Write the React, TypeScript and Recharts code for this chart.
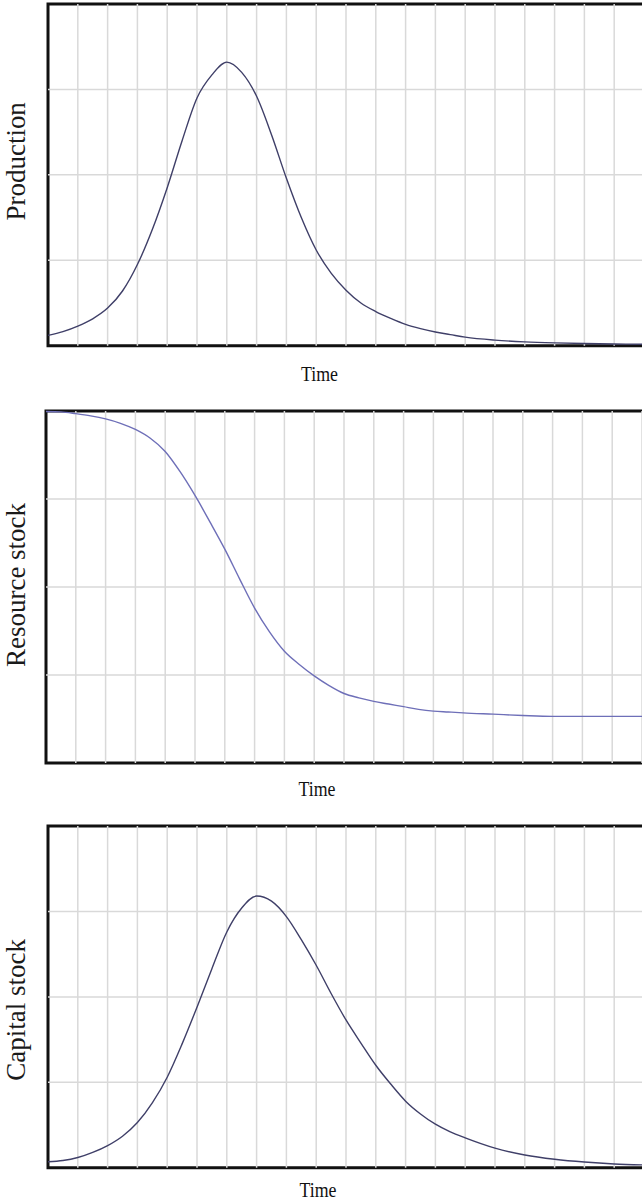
import React from "react";
import {
  LineChart,
  Line,
  XAxis,
  YAxis,
  ReferenceArea,
  ReferenceLine,
} from "recharts";

// simulation output (time in grid steps)
const timePoints = [
  0, 0.5, 1, 1.5, 2, 2.5, 3, 3.5, 4, 4.5, 5, 5.5, 6, 6.5, 7, 7.5, 8, 8.5, 9,
  9.5, 10, 10.5, 11, 11.5, 12, 12.5, 13, 13.5, 14, 15, 16, 17, 18, 19, 20, 21,
];

const production = [
  0.12, 0.165, 0.23, 0.315, 0.44, 0.64, 0.95, 1.36, 1.85, 2.4, 2.9, 3.17, 3.32,
  3.2, 2.92, 2.47, 1.96, 1.5, 1.12, 0.85, 0.65, 0.5, 0.4, 0.32, 0.25, 0.2,
  0.16, 0.13, 0.1, 0.065, 0.045, 0.033, 0.025, 0.02, 0.017, 0.015,
];

const resourceStock = [
  3.995, 3.99, 3.97, 3.945, 3.91, 3.86, 3.79, 3.69, 3.54, 3.31, 3.04, 2.74,
  2.43, 2.09, 1.76, 1.49, 1.27, 1.12, 0.99, 0.88, 0.79, 0.74, 0.7, 0.67, 0.64,
  0.61, 0.59, 0.58, 0.57, 0.555, 0.54, 0.53, 0.53, 0.53, 0.53, 0.53,
];

const capitalStock = [
  0.07, 0.085, 0.12, 0.18, 0.26, 0.37, 0.53, 0.76, 1.06, 1.45, 1.88, 2.33,
  2.76, 3.04, 3.18, 3.12, 2.94, 2.67, 2.37, 2.04, 1.73, 1.46, 1.2, 0.98, 0.78,
  0.63, 0.51, 0.42, 0.35, 0.23, 0.15, 0.1, 0.067, 0.045, 0.034, 0.028,
];

const timeTicks = [
  0, 1, 2, 3, 4, 5, 6, 7, 8, 9, 10, 11, 12, 13, 14, 15, 16, 17, 18, 19, 20, 21,
];
const valueTicks = [0, 1, 2, 3, 4];

const FONT = '"Liberation Serif", "Times New Roman", serif';
const CHART_WIDTH = 680;
const STEP = 29.8;
const GRID = "#d9d9d9";

interface PanelProps {
  values: number[];
  yLabel: string;
  stroke: string;
  top: number;
  left: number;
  plotHeight: number;
  yLabelShift: number;
  timeX: number;
  timeDy: number;
}

const Panel: React.FC<PanelProps> = ({
  values,
  yLabel,
  stroke,
  top,
  left,
  plotHeight,
  yLabelShift,
  timeX,
  timeDy,
}) => {
  const data = timePoints.map((t, i) => ({ t, v: values[i] }));
  const plotWidth = STEP * (timeTicks.length - 1);
  const marginTop = 4;
  const axisHeight = 45;
  const height = marginTop + plotHeight + axisHeight;

  const yLabelContent = (props: any) => {
    const vb = props.viewBox;
    const cy = vb.y + vb.height / 2 + yLabelShift;
    return (
      <text
        transform={`translate(${vb.x + 25}, ${cy}) rotate(-90)`}
        textAnchor="middle"
        fontFamily={FONT}
        fontSize={27}
        fill="#1a1a1a"
      >
        {yLabel}
      </text>
    );
  };

  const timeLabelContent = (props: any) => {
    const vb = props.viewBox;
    return (
      <text
        x={timeX}
        y={vb.y + timeDy}
        textAnchor="middle"
        fontFamily={FONT}
        fontSize={21}
        textLength={37}
        lengthAdjust="spacingAndGlyphs"
        fill="#111"
      >
        Time
      </text>
    );
  };

  // inner grid lines only; the frame is drawn by the ReferenceArea
  const innerTimes = timeTicks.slice(1, -1);
  const innerValues = valueTicks.slice(1, -1);

  return (
    <div style={{ position: "absolute", top: top - marginTop, left: 0 }}>
      <LineChart
        width={CHART_WIDTH}
        height={height}
        data={data}
        margin={{
          top: marginTop,
          right: CHART_WIDTH - left - plotWidth,
          bottom: 0,
          left: 0,
        }}
      >
        <XAxis
          dataKey="t"
          type="number"
          domain={[0, 21]}
          ticks={timeTicks}
          tick={false}
          tickLine={false}
          axisLine={false}
          height={axisHeight}
          label={timeLabelContent}
        />
        <YAxis
          type="number"
          domain={[0, 4]}
          ticks={valueTicks}
          tick={false}
          tickLine={false}
          axisLine={false}
          width={left}
          label={yLabelContent}
        />
        {innerTimes.map((t) => (
          <ReferenceLine key={`x${t}`} x={t} stroke={GRID} strokeWidth={1.5} />
        ))}
        {innerValues.map((v) => (
          <ReferenceLine key={`y${v}`} y={v} stroke={GRID} strokeWidth={1.5} />
        ))}
        <Line
          type="monotone"
          dataKey="v"
          stroke={stroke}
          strokeWidth={1.4}
          dot={false}
          isAnimationActive={false}
        />
        <ReferenceArea
          x1={0}
          x2={21}
          y1={0}
          y2={4}
          fill="none"
          fillOpacity={0}
          stroke="#111"
          strokeWidth={3}
        />
      </LineChart>
    </div>
  );
};

export default function App() {
  return (
    <div
      style={{
        position: "absolute",
        top: 0,
        left: 0,
        width: 642,
        height: 1201,
        overflow: "hidden",
        background: "#fff",
      }}
    >
      <Panel
        values={production}
        yLabel="Production"
        stroke="#3f3f68"
        top={3.8}
        left={48}
        plotHeight={341.7}
        yLabelShift={-13.5}
        timeX={319.5}
        timeDy={35.5}
      />
      <Panel
        values={resourceStock}
        yLabel="Resource stock"
        stroke="#6e6fb8"
        top={410.6}
        left={46}
        plotHeight={352}
        yLabelShift={-2}
        timeX={317}
        timeDy={32.5}
      />
      <Panel
        values={capitalStock}
        yLabel="Capital stock"
        stroke="#3f3f68"
        top={826.2}
        left={48}
        plotHeight={341.8}
        yLabelShift={13}
        timeX={318}
        timeDy={29}
      />
    </div>
  );
}
